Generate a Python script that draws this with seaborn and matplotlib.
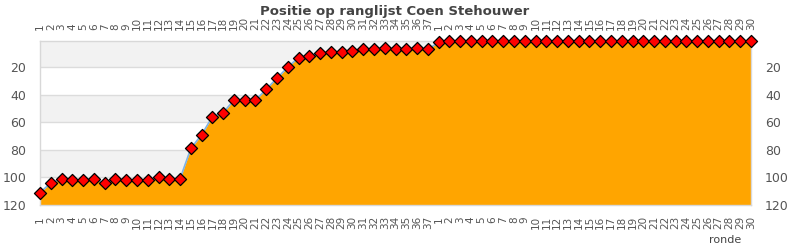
import numpy as np
import pandas as pd
import matplotlib
matplotlib.use("Agg")
import matplotlib.pyplot as plt
import seaborn as sns

# Data
round_labels = [str(i) for i in range(1, 38)] + [str(i) for i in range(1, 31)]
positions = [111, 104, 101, 102, 102, 101, 104, 101, 102, 102, 102, 100, 101, 101,
             79, 69, 56, 53, 44, 44, 44, 36, 28, 20, 13, 12, 10, 9, 9, 8, 7, 7, 6, 7, 7, 6, 7,
             2] + [1] * 29
y_ticks = [20, 40, 60, 80, 100, 120]

df = pd.DataFrame({"idx": np.arange(len(positions)), "pos": positions})

sns.set_theme(style="white")
plt.rcParams['font.family'] = ['DejaVu Sans']

fig = plt.figure(figsize=(7.9, 2.5), dpi=100)
ax = fig.add_axes([40/790, 1-205/250, 711/790, 164/250])

# alternating bands
for i, lo in enumerate(range(0, 120, 20)):
    if i % 2 == 0:
        ax.axhspan(lo, lo + 20, color="#f2f2f2", zorder=0, lw=0)
for t in y_ticks[:-1]:
    ax.axhline(t, color="#dcdcdc", lw=1, zorder=0.5)

ax.fill_between(df["idx"], df["pos"], 120, color="#ffa500", lw=0, zorder=1)
sns.lineplot(data=df, x="idx", y="pos", ax=ax, color="#7fb2e5", lw=1.2, zorder=2)
sns.scatterplot(data=df, x="idx", y="pos", ax=ax, marker="D", s=38, color="#ff0000",
                edgecolor="black", linewidth=0.9, zorder=3, clip_on=False)

ax.set_xlim(0, len(positions) - 1)
ax.set_ylim(120, 1)
ax.set_xlabel("")
ax.set_ylabel("")

ax.set_xticks(df["idx"])
ax.set_xticklabels(round_labels, rotation=90, fontsize=7.5, color="#555555")
ax.set_yticks(y_ticks)
ax.set_yticklabels([str(t) for t in y_ticks], fontsize=9, color="#555555")
ax.tick_params(axis="x", which="both", top=False, bottom=False, labeltop=True, labelbottom=True, pad=2)
ax.tick_params(axis="y", which="both", left=False, right=False, labelleft=True, labelright=True, pad=4)

for s in ax.spines.values():
    s.set_color("#d8d8d8")
    s.set_linewidth(1)

fig.text(0.5, 1 - 12/250, "Positie op ranglijst Coen Stehouwer", ha="center", va="center",
         fontsize=9.5, fontweight="bold", color="#444444")
fig.text(725/790, 1 - 240/250, "ronde", ha="center", va="center", fontsize=8, color="#444444")

fig.savefig("out.png", dpi=100)
